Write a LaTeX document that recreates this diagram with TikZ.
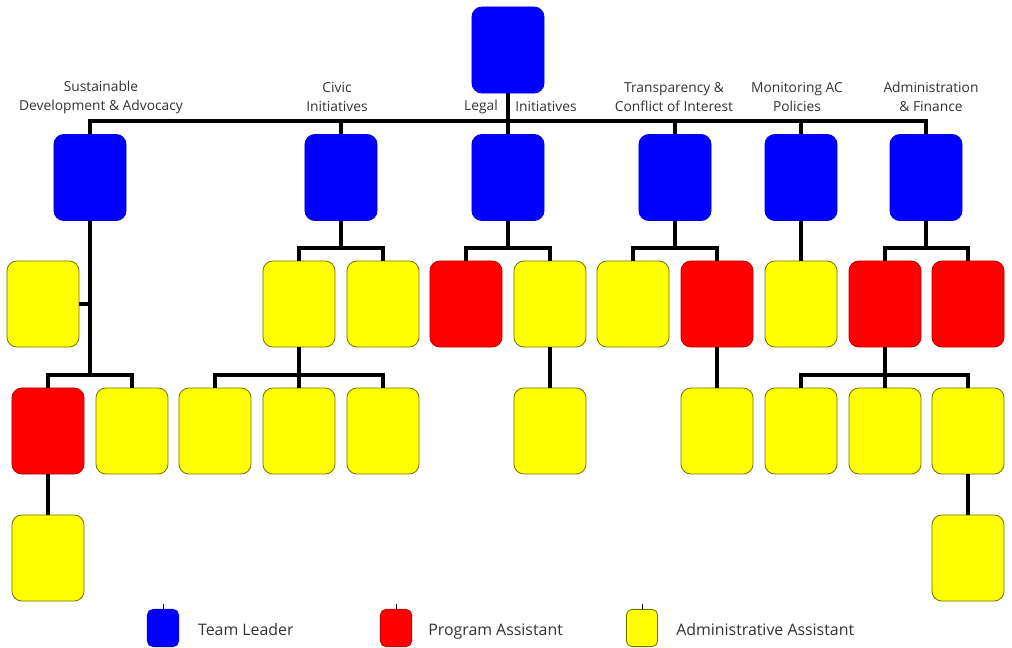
\documentclass[tikz,border=0pt]{standalone}
\usepackage{fontspec}
\setmainfont{Open Sans}
\usetikzlibrary{positioning}

\definecolor{tlblue}{RGB}{0,0,255}
\definecolor{pared}{RGB}{255,0,0}
\definecolor{aayellow}{RGB}{255,255,0}
\definecolor{txtgray}{RGB}{50,50,50}

\tikzset{
  unit/.style={rounded corners=7pt, minimum width=1.8cm, minimum height=2.15cm, inner sep=0pt, line width=0.6pt},
  lead/.style={unit, fill=tlblue, draw=tlblue!85!black},
  prog/.style={unit, fill=pared, draw=pared!75!black},
  admn/.style={unit, fill=aayellow, draw=aayellow!45!black},
  link/.style={line width=2.2pt, black},
  lbl/.style={align=center, text=txtgray, inner sep=0pt, font=\fontsize{9.8}{13.5}\selectfont},
  key/.style={minimum width=0.78cm, minimum height=0.93cm, rounded corners=4pt},
  keytxt/.style={text=txtgray, inner sep=0pt, text height=1.5ex, text depth=0.25ex, yshift=-2pt, font=\fontsize{11.3}{13}\selectfont}
}

\begin{document}
\begin{tikzpicture}[x=0.025cm,y=-0.025cm]
  \useasboundingbox (0,0) rectangle (1012,648);
  \pgfmathsetmacro {\ya}{177.5} %row of team leaders
  \pgfmathsetmacro {\yb}{304}   %second row
  \pgfmathsetmacro {\yc}{431}   %third row
  \pgfmathsetmacro {\yd}{558}   %fourth row

  \coordinate (busa) at (508,121); %main bus
  \coordinate (busb) at (0,248);   %bus above 2nd row
  \coordinate (busc) at (0,375);   %bus above 3rd row

  %Head and team leaders
  \node[lead] (dir) at (508,50) {};
  \node[lead] (sda) at (90,\ya) {};
  \node[lead] (civ) at (341,\ya) {};
  \node[lead] (leg) at (508,\ya) {};
  \node[lead] (trn) at (675,\ya) {};
  \node[lead] (mon) at (801,\ya) {};
  \node[lead] (adm) at (926,\ya) {};

  %Team names
  \node[lbl] (sdat) at (101,97) {Sustainable\\Development \& Advocacy};
  \node[lbl] (civt) at (337,97) {Civic\\Initiatives};
  \node[lbl] (legt) at (481,107) {Legal};
  \node[lbl] (legu) at (546,107) {Initiatives};
  \node[lbl] (trnt) at (674,97) {Transparency \&\\Conflict of Interest};
  \node[lbl] (mont) at (797,97) {Monitoring AC\\Policies};
  \node[lbl] (admt) at (931,97) {Administration\\\& Finance};

  %Second row
  \node[admn] (sa) at (43,\yb) {};
  \node[admn] (ca) at (299,\yb) {};
  \node[admn] (cb) at (383,\yb) {};
  \node[prog] (la) at (466,\yb) {};
  \node[admn] (lb) at (550,\yb) {};
  \node[admn] (ta) at (633,\yb) {};
  \node[prog] (tb) at (717,\yb) {};
  \node[admn] (ma) at (801,\yb) {};
  \node[prog] (aa) at (885,\yb) {};
  \node[prog] (ab) at (968,\yb) {};

  %Third row
  \node[prog] (sr) at (48,\yc) {};
  \node[admn] (sb) at (132,\yc) {};
  \node[admn] (cc) at (215,\yc) {};
  \node[admn] (cd) at (299,\yc) {};
  \node[admn] (ce) at (383,\yc) {};
  \node[admn] (lc) at (550,\yc) {};
  \node[admn] (tc) at (717,\yc) {};
  \node[admn] (ac) at (801,\yc) {};
  \node[admn] (ad) at (885,\yc) {};
  \node[admn] (ae) at (968,\yc) {};

  %Fourth row
  \node[admn] (sc) at (48,\yd) {};
  \node[admn] (af) at (968,\yd) {};

  %Main bus
  \draw[link] (sda.north) |- (busa) -| (adm.north);
  \draw[link] (dir) -- (leg);
  \foreach \t in {civ,trn,mon} \draw[link] (\t.north) -- (\t.north |- busa);

  %Sustainable development
  \draw[link] (sda.south) -- (sda.south |- busc);
  \draw[link] (sa.east) -- (sa.east -| sda.south);
  \draw[link] (sr.north) |- (sda.south |- busc) -| (sb.north);
  \draw[link] (sr) -- (sc);

  %Civic initiatives
  \draw[link] (civ.south) -- (civ.south |- busb);
  \draw[link] (ca.north) |- (cb.north |- busb) -- (cb.north);
  \draw[link] (ca) -- (cd);
  \draw[link] (cc.north) |- (ce.north |- busc) -- (ce.north);

  %Legal initiatives
  \draw[link] (leg.south) -- (leg.south |- busb);
  \draw[link] (la.north) |- (lb.north |- busb) -- (lb.north);
  \draw[link] (lb) -- (lc);

  %Transparency
  \draw[link] (trn.south) -- (trn.south |- busb);
  \draw[link] (ta.north) |- (tb.north |- busb) -- (tb.north);
  \draw[link] (tb) -- (tc);

  %Monitoring
  \draw[link] (mon) -- (ma);

  %Administration
  \draw[link] (adm.south) -- (adm.south |- busb);
  \draw[link] (aa.north) |- (ab.north |- busb) -- (ab.north);
  \draw[link] (aa) -- (ad);
  \draw[link] (ac.north) |- (ae.north |- busc) -- (ae.north);
  \draw[link] (ae) -- (af);

  %Legend
  \node[lead, key] (kl) at (163,628) {};
  \node[keytxt, right=0.47cm of kl] (klt) {Team Leader};
  \node[prog, key] (kp) at (396,628) {};
  \node[keytxt, right=0.4cm of kp] (kpt) {Program Assistant};
  \node[admn, key] (ka) at (642,628) {};
  \node[keytxt, right=0.45cm of ka] (kat) {Administrative Assistant};
  \foreach \k in {kl,kp,ka} \draw[line width=0.6pt] (\k.north) -- ++(0,-5);
\end{tikzpicture}
\end{document}
